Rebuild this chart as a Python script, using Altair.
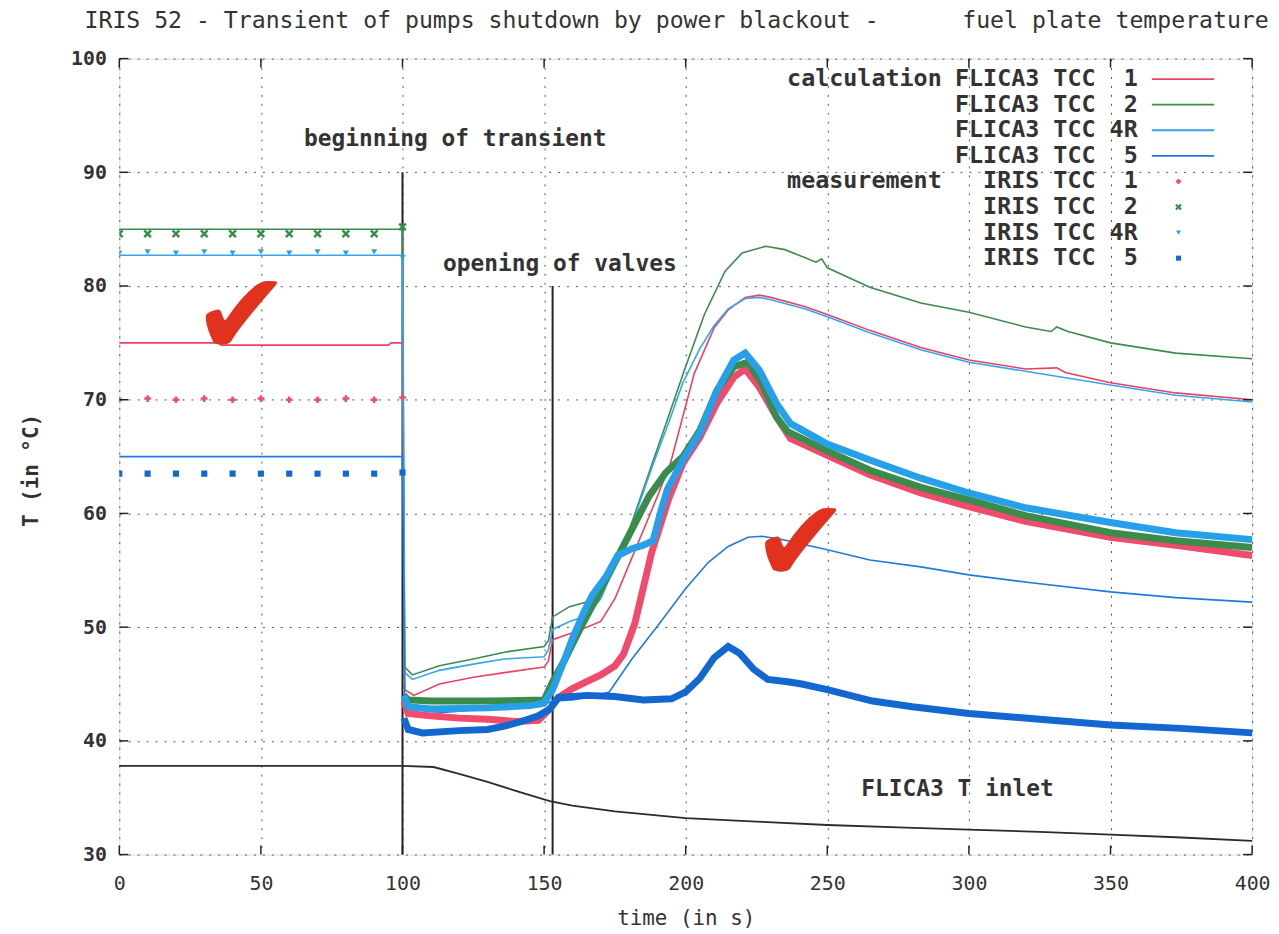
import altair as alt
import pandas as pd

NB = "\u00a0"

# ---------------- values ----------------
x_ticks = [0, 50, 100, 150, 200, 250, 300, 350, 400]
y_ticks = [30, 40, 50, 60, 70, 80, 90, 100]

calc_names = ["FLICA3 TCC" + NB + NB + "1", "FLICA3 TCC" + NB + NB + "2",
              "FLICA3 TCC 4R", "FLICA3 TCC" + NB + NB + "5"]
meas_names = ["IRIS TCC" + NB + NB + "1", "IRIS TCC" + NB + NB + "2",
              "IRIS TCC 4R", "IRIS TCC" + NB + NB + "5"]
calc_colors = ["#ea4262", "#3b8b4e", "#35a6ec", "#1f7ade"]
meas_colors = ["#f04a6c", "#3a8c4c", "#27a0ea", "#1268d0"]
meas_shapes = ["M-1,0H1M0,-1V1", "M-1,-1L1,1M-1,1L1,-1", "triangle-down", "square"]
meas_filled = [False, False, True, True]

# FLICA3 calculation
flica1_t = [0, 35, 36, 95, 96, 100, 100.8, 104, 113, 125, 136, 150, 151.5, 153, 160, 165, 170, 175,
            180, 185, 190, 194.6, 203, 210, 215, 221, 226, 230, 242, 250, 265, 283, 300, 320, 331, 334,
            350, 373, 400]
flica1_v = [75.0, 75.0, 74.8, 74.8, 75.0, 75.0, 44.5, 44.0, 45.0, 45.6, 46.0, 46.5, 47.0, 48.9, 49.5,
            50.0, 50.5, 52.5, 55.5, 58.5, 61.5, 64.4, 72.3, 76.3, 77.9, 79.0, 79.2, 79.0, 78.2, 77.5,
            76.1, 74.6, 73.5, 72.7, 72.8, 72.4, 71.5, 70.6, 70.0]

flica2_t = [0, 100, 100.8, 103.5, 113, 125, 136, 150, 151.5, 153, 159, 165, 170, 175, 180, 188.6, 194,
            199.4, 206.6, 213.9, 219.9, 228.3, 235, 242, 246, 248, 250, 265, 283, 300, 320, 329, 331,
            335, 350, 373, 400]
flica2_v = [85.0, 85.0, 46.5, 45.8, 46.6, 47.2, 47.8, 48.3, 48.8, 50.9, 51.8, 52.2, 53.5, 56.0, 58.5,
            64.7, 68.6, 72.5, 77.5, 81.3, 82.9, 83.5, 83.2, 82.5, 82.1, 82.4, 81.6, 79.9, 78.5, 77.7,
            76.4, 76.0, 76.4, 76.0, 75.0, 74.1, 73.6]

flica4r_t = [0, 100, 100.8, 103.5, 113, 125, 136, 150, 151.5, 153, 159, 165, 170, 175, 180, 188, 194,
             199, 205, 210, 215, 221, 226, 230, 242, 250, 265, 283, 300, 320, 350, 373, 400]
flica4r_v = [82.7, 82.7, 46.0, 45.4, 46.2, 46.75, 47.2, 47.4, 48.0, 49.8, 50.5, 51.0, 52.5, 55.5, 58.3,
             64.0, 68.0, 71.5, 74.5, 76.5, 78.0, 78.9, 79.0, 78.8, 78.0, 77.3, 75.9, 74.4, 73.3, 72.5,
             71.3, 70.4, 69.8]

flica5_t = [0, 100, 100.8, 103, 110, 130, 150, 153, 160, 167, 173, 181, 191, 200, 208, 215, 222, 227,
            234, 250, 265, 283, 300, 322, 350, 373, 400]
flica5_v = [65.0, 65.0, 43.5, 42.3, 42.4, 42.8, 43.2, 43.5, 43.6, 43.9, 44.3, 47.2, 50.4, 53.4, 55.7,
            57.1, 57.9, 58.0, 57.7, 56.8, 55.9, 55.3, 54.6, 53.9, 53.1, 52.6, 52.2]

inlet_t = [0, 100, 111, 120, 130, 140, 152, 160, 175, 200, 225, 250, 275, 300, 325, 350, 375, 400]
inlet_v = [37.8, 37.8, 37.7, 37.1, 36.4, 35.6, 34.7, 34.3, 33.8, 33.2, 32.9, 32.6, 32.4, 32.2, 32.0,
           31.75, 31.5, 31.2]

# IRIS measurement
iris1_t = [0, 10, 20, 30, 40, 50, 60, 70, 80, 90, 100, 100.5, 102, 110, 120, 130, 140, 148, 152, 155,
           160, 165, 170, 175, 178, 182, 188, 194, 199, 205, 211, 217, 221, 226, 232, 237, 250, 265,
           283, 300, 320, 350, 373, 400]
iris1_v = [70.0, 70.1, 70.0, 70.1, 70.0, 70.1, 70.0, 70.0, 70.1, 70.0, 70.2, 43.5, 42.4, 42.2, 42.0,
           41.9, 41.7, 41.8, 42.8, 43.8, 44.6, 45.2, 45.8, 46.6, 47.6, 50.3, 56.6, 61.3, 64.4, 66.7,
           69.7, 72.0, 72.7, 71.1, 68.5, 66.6, 65.1, 63.4, 61.8, 60.6, 59.3, 57.9, 57.2, 56.3]

iris2_t = [0, 10, 20, 30, 40, 50, 60, 70, 80, 90, 100, 100.5, 102, 110, 130, 150, 153, 157, 160, 163,
           169, 175, 181, 187, 193, 199, 205, 211, 217, 222, 227, 232, 236, 250, 265, 283, 300, 320,
           350, 373, 400]
iris2_v = [84.6, 84.6, 84.6, 84.6, 84.6, 84.6, 84.6, 84.6, 84.6, 84.6, 85.2, 44.0, 43.6, 43.5, 43.5,
           43.6, 45.2, 47.0, 48.5, 50.0, 52.8, 55.7, 58.6, 61.5, 63.6, 65.0, 67.3, 70.8, 72.9, 73.3,
           71.4, 68.5, 67.2, 65.5, 63.8, 62.3, 61.2, 59.8, 58.3, 57.6, 57.0]

iris4r_t = [0, 10, 20, 30, 40, 50, 60, 70, 80, 90, 100, 100.5, 102, 110, 130, 145, 150, 153, 157, 160,
            164, 167, 172, 176, 181, 185, 188.5, 191, 193.5, 199, 205, 211, 217, 221, 226, 232, 237,
            250, 265, 283, 300, 320, 350, 373, 400]
iris4r_v = [82.9, 83.0, 82.9, 83.0, 82.9, 83.0, 82.9, 83.0, 82.9, 83.0, 82.5, 44.0, 43.0, 42.8, 42.9,
            43.1, 43.3, 44.5, 47.0, 49.0, 51.3, 52.8, 54.5, 56.3, 56.9, 57.2, 57.6, 60.0, 62.1, 64.7,
            67.1, 70.8, 73.5, 74.1, 72.6, 69.7, 67.9, 66.1, 64.7, 63.1, 61.8, 60.5, 59.2, 58.3, 57.7]

iris5_t = [0, 10, 20, 30, 40, 50, 60, 70, 80, 90, 100, 100.5, 102, 107, 120, 130, 136, 142, 148, 152,
           155, 165, 175, 185, 195, 200, 205, 210, 215, 219, 224, 229, 236, 241, 250, 266, 280, 300,
           325, 350, 375, 400]
iris5_v = [63.5, 63.5, 63.5, 63.5, 63.5, 63.5, 63.5, 63.5, 63.5, 63.5, 63.6, 42.0, 41.0, 40.7, 40.9,
           41.0, 41.3, 41.7, 42.2, 42.8, 43.8, 44.0, 43.9, 43.6, 43.7, 44.3, 45.5, 47.3, 48.3, 47.7,
           46.3, 45.4, 45.2, 45.0, 44.5, 43.5, 43.0, 42.4, 41.9, 41.4, 41.1, 40.7]

# events (vertical lines) and annotations
event_t = [100, 153]
event_top = [90, 80]
note_text = ["beginning of transient", "opening of valves", "FLICA3 T inlet"]
note_x = [118.6, 155.6, 296.0]
note_y = [92.9, 81.9, 35.8]
check_x = [43.1, 240.6]
check_y = [77.0, 57.0]

key_prefix = ["calculation", "", "", "", "measurement", "", "", ""]

title_text = ("IRIS 52 - Transient of pumps shutdown by power blackout -" + NB * 6 +
              "fuel plate temperature")

# ---------------- build chart ----------------
FONT = "DejaVu Sans Mono"
TXT = "#333333"
xs = alt.Scale(domain=[0, 400], nice=False, zero=False)
ys = alt.Scale(domain=[30, 100], nice=False, zero=False)
xaxis = alt.Axis(values=x_ticks, title="time (in s)", grid=True, ticks=False, domain=False,
                 labelFont=FONT, labelFontSize=20, labelColor=TXT, labelPadding=19, format="d",
                 labelFlush=False, titleFont=FONT, titleFontSize=21, titleFontWeight="normal",
                 titleColor=TXT, titleY=64, titleBaseline="middle",
                 gridDash=[2, 7], gridColor="#555555", gridWidth=1)
yaxis = alt.Axis(values=y_ticks, title="T (in °C)", grid=True, ticks=False, domain=False,
                 labelFont=FONT, labelFontSize=20, labelFontWeight="bold", labelColor=TXT,
                 labelPadding=13, format="d", labelFlush=False,
                 titleFont=FONT, titleFontSize=21, titleFontWeight="bold", titleColor=TXT,
                 titleX=-88, titleY=414, titleBaseline="middle",
                 gridDash=[2, 7], gridColor="#555555", gridWidth=1)


def X(f):
    return alt.X(f, type="quantitative", scale=xs, axis=xaxis)


def Y(f):
    return alt.Y(f, type="quantitative", scale=ys, axis=yaxis)


layers = []

# vertical event lines
ev = pd.DataFrame({"t": event_t, "top": event_top})
layers.append(alt.Chart(ev).transform_calculate(bot="30").mark_rule(color="#222222", strokeWidth=2).encode(
    x=X("t"), y=Y("bot"), y2=alt.Y2("top")))

# inlet
inl = pd.DataFrame({"t": inlet_t, "v": inlet_v})
layers.append(alt.Chart(inl).mark_line(color="#2b2b2b", strokeWidth=1.8).encode(
    x=X("t"), y=Y("v")))

# calculation lines
calc_data = [(flica1_t, flica1_v), (flica2_t, flica2_v), (flica4r_t, flica4r_v), (flica5_t, flica5_v)]
for (tt, vv), col in zip(calc_data, calc_colors):
    d = pd.DataFrame({"t": tt, "v": vv})
    layers.append(alt.Chart(d).mark_line(color=col, strokeWidth=1.6, clip=True).encode(
        x=X("t"), y=Y("v")))

# measurements: dense part drawn as thick band, sparse part as markers
meas_data = [(iris1_t, iris1_v), (iris2_t, iris2_v), (iris4r_t, iris4r_v), (iris5_t, iris5_v)]
for (tt, vv), col in zip(meas_data, meas_colors):
    d = pd.DataFrame({"t": tt, "v": vv})
    dense = d[d["t"] > 100]
    layers.append(alt.Chart(dense).mark_line(color=col, strokeWidth=7, clip=True).encode(
        x=X("t"), y=Y("v")))
for (tt, vv), col, shp, fil in zip(meas_data, meas_colors, meas_shapes, meas_filled):
    d = pd.DataFrame({"t": tt, "v": vv})
    sparse = d[d["t"] <= 100]
    layers.append(alt.Chart(sparse).mark_point(color=col, shape=shp, size=45 if not fil else 38,
                                               filled=fil, strokeWidth=2.5, opacity=1, clip=True).encode(
        x=X("t"), y=Y("v")))

# annotations
notes = pd.DataFrame({"txt": note_text, "x": note_x, "y": note_y})
layers.append(alt.Chart(notes).mark_text(font=FONT, fontSize=23, fontWeight="bold", color=TXT,
                                         align="center", baseline="middle").encode(
    x=X("x"), y=Y("y"), text="txt:N"))

# key (gnuplot style, inside the plot)
key = pd.DataFrame({"row": list(range(8)), "prefix": key_prefix,
                    "label": calc_names + meas_names,
                    "color": calc_colors + meas_colors})
key_base = alt.Chart(key).transform_calculate(
    ky="98.2 - datum.row * 2.25", kr="359.6", kl="235.8", k1="364.6", k2="386.6", km="374.0")
layers.append(key_base.mark_text(font=FONT, fontSize=23.5, fontWeight="bold", color=TXT,
                                 align="right", baseline="middle").encode(
    x=X("kr"), y=Y("ky"), text="label:N"))
layers.append(key_base.mark_text(font=FONT, fontSize=23.5, fontWeight="bold", color=TXT,
                                 align="left", baseline="middle").encode(
    x=X("kl"), y=Y("ky"), text="prefix:N"))
layers.append(key_base.transform_filter("datum.row < 4").mark_rule(strokeWidth=1.8).encode(
    x=X("k1"), x2=alt.X2("k2"), y=Y("ky"), color=alt.Color("color:N", scale=None)))
for i in range(4, 8):
    layers.append(key_base.transform_filter(f"datum.row == {i}").mark_point(
        shape=meas_shapes[i - 4], color=meas_colors[i - 4], size=26, filled=meas_filled[i - 4],
        strokeWidth=2.2, opacity=1).encode(x=X("km"), y=Y("ky")))

# inward border ticks (gnuplot style)
xt = pd.DataFrame({"t": x_ticks})
yt = pd.DataFrame({"v": y_ticks})
tick_style = dict(color="#222222", strokeWidth=1.5)
layers.append(alt.Chart(xt).transform_calculate(a="30", b="30.8").mark_rule(**tick_style).encode(
    x=X("t"), y=Y("a"), y2=alt.Y2("b")))
layers.append(alt.Chart(xt).transform_calculate(a="99.2", b="100").mark_rule(**tick_style).encode(
    x=X("t"), y=Y("a"), y2=alt.Y2("b")))
layers.append(alt.Chart(yt).transform_calculate(a="0", b="3.2").mark_rule(**tick_style).encode(
    y=Y("v"), x=X("a"), x2=alt.X2("b")))
layers.append(alt.Chart(yt).transform_calculate(a="396.8", b="400").mark_rule(**tick_style).encode(
    y=Y("v"), x=X("a"), x2=alt.X2("b")))

# hand-drawn check marks
chk = pd.DataFrame({"x": check_x, "y": check_y, "s": ["\u2714", "\u2714"]})
layers.append(alt.Chart(chk).mark_text(font="DejaVu Sans", fontSize=118, color="#e0321e",
                                       align="center", baseline="middle").encode(
    x=X("x"), y=Y("y"), text="s:N"))

chart = alt.layer(*layers).properties(
    width=1140, height=801,
    autosize=alt.AutoSizeParams(type="none"),
    padding={"left": 112, "top": 48, "right": 19, "bottom": 76},
    title=alt.TitleParams(text=title_text, anchor="start", frame="group", dx=-35, offset=16,
                          font=FONT, fontSize=23.3, fontWeight="normal", color=TXT),
).configure_view(stroke="#222222", strokeWidth=2).configure(background="white")

chart.save("out.html", embed_options={"renderer": "svg", "actions": False})
